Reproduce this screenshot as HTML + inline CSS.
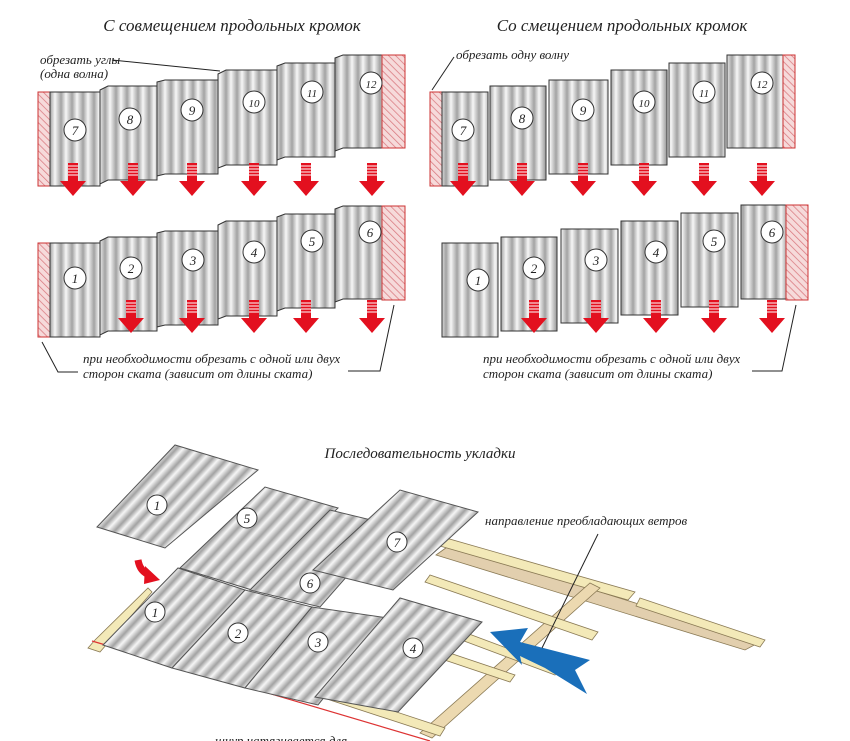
<!DOCTYPE html>
<html><head><meta charset="utf-8"><style>
html,body{margin:0;padding:0;background:#fff;}
svg{display:block}
text{font-family:"Liberation Serif",serif;font-style:italic;fill:#222}
</style></head><body>
<svg width="850" height="741" viewBox="0 0 850 741" xmlns="http://www.w3.org/2000/svg">
<defs>
<linearGradient id="g" x1="0" x2="1" y1="0" y2="0">
<stop offset="0" stop-color="#f6f6f6"/><stop offset="0.55" stop-color="#a2a2a2"/><stop offset="1" stop-color="#f6f6f6"/>
</linearGradient>
<pattern id="corr" width="11" height="10" patternUnits="userSpaceOnUse"><rect width="11" height="10" fill="url(#g)"/></pattern>
<pattern id="corr2" width="11" height="10" patternUnits="userSpaceOnUse" patternTransform="rotate(43)"><rect width="11" height="10" fill="url(#g)"/></pattern>
<pattern id="hatch" width="5" height="5" patternUnits="userSpaceOnUse" patternTransform="rotate(-45)"><rect width="5" height="5" fill="#f6dada"/><line x1="0" y1="0" x2="0" y2="5" stroke="#d9787f" stroke-width="1.5"/></pattern>
<g id="arr">
<rect x="-5" y="0" width="10" height="18" fill="#e3101f"/>
<line x1="-5" x2="5" y1="3" y2="3" stroke="#fff" stroke-width="1"/>
<line x1="-5" x2="5" y1="6" y2="6" stroke="#fff" stroke-width="1"/>
<line x1="-5" x2="5" y1="9" y2="9" stroke="#fff" stroke-width="1"/>
<line x1="-5" x2="5" y1="12" y2="12" stroke="#fff" stroke-width="1"/>
<polygon points="-13,18 13,18 0,33" fill="#e3101f"/>
</g>
</defs>

<text x="232" y="31" font-size="17" text-anchor="middle">С совмещением продольных кромок</text>
<text x="622" y="31" font-size="17" text-anchor="middle">Со смещением продольных кромок</text>

<g stroke="#333" stroke-width="1">
<rect x="38" y="92" width="12" height="94" fill="url(#hatch)" stroke="#c33"/>
<rect x="50" y="92" width="50" height="94" fill="url(#corr)"/>
<polygon points="100,90 108,86 157,86 157,180 108,180 100,184" fill="url(#corr)"/>
<polygon points="157,82 165,80 218,80 218,174 165,174 157,176" fill="url(#corr)"/>
<polygon points="218,74 226,70 277,70 277,165 226,165 218,168" fill="url(#corr)"/>
<polygon points="277,66 285,63 335,63 335,157 285,157 277,160" fill="url(#corr)"/>
<polygon points="335,58 343,55 382,55 382,148 343,148 335,151" fill="url(#corr)"/>
<rect x="382" y="55" width="23" height="93" fill="url(#hatch)" stroke="#c33"/>
<rect x="38" y="243" width="12" height="94" fill="url(#hatch)" stroke="#c33"/>
<rect x="50" y="243" width="50" height="94" fill="url(#corr)"/>
<polygon points="100,241 108,237 157,237 157,331 108,331 100,335" fill="url(#corr)"/>
<polygon points="157,233 165,231 218,231 218,325 165,325 157,327" fill="url(#corr)"/>
<polygon points="218,225 226,221 277,221 277,316 226,316 218,319" fill="url(#corr)"/>
<polygon points="277,217 285,214 335,214 335,308 285,308 277,311" fill="url(#corr)"/>
<polygon points="335,209 343,206 382,206 382,299 343,299 335,302" fill="url(#corr)"/>
<rect x="382" y="206" width="23" height="94" fill="url(#hatch)" stroke="#c33"/>

<rect x="430" y="92" width="12" height="94" fill="url(#hatch)" stroke="#c33"/>
<rect x="442" y="92" width="46" height="94" fill="url(#corr)"/>
<rect x="490" y="86" width="56" height="94" fill="url(#corr)"/>
<rect x="549" y="80" width="59" height="94" fill="url(#corr)"/>
<rect x="611" y="70" width="56" height="95" fill="url(#corr)"/>
<rect x="669" y="63" width="56" height="94" fill="url(#corr)"/>
<rect x="727" y="55" width="56" height="93" fill="url(#corr)"/>
<rect x="783" y="55" width="12" height="93" fill="url(#hatch)" stroke="#c33"/>
<rect x="442" y="243" width="56" height="94" fill="url(#corr)"/>
<rect x="501" y="237" width="56" height="94" fill="url(#corr)"/>
<rect x="561" y="229" width="57" height="94" fill="url(#corr)"/>
<rect x="621" y="221" width="57" height="94" fill="url(#corr)"/>
<rect x="681" y="213" width="57" height="94" fill="url(#corr)"/>
<rect x="741" y="205" width="45" height="94" fill="url(#corr)"/>
<rect x="786" y="205" width="22" height="95" fill="url(#hatch)" stroke="#c33"/>
</g>

<g fill="#fff" stroke="#333" stroke-width="1">
<circle cx="75" cy="130" r="11"/><circle cx="130" cy="119" r="11"/><circle cx="192" cy="110" r="11"/><circle cx="254" cy="102" r="11"/><circle cx="312" cy="92" r="11"/><circle cx="371" cy="83" r="11"/>
<circle cx="75" cy="278" r="11"/><circle cx="131" cy="268" r="11"/><circle cx="193" cy="260" r="11"/><circle cx="254" cy="252" r="11"/><circle cx="312" cy="241" r="11"/><circle cx="370" cy="232" r="11"/>
<circle cx="463" cy="130" r="11"/><circle cx="522" cy="118" r="11"/><circle cx="583" cy="110" r="11"/><circle cx="644" cy="102" r="11"/><circle cx="704" cy="92" r="11"/><circle cx="762" cy="83" r="11"/>
<circle cx="478" cy="280" r="11"/><circle cx="534" cy="268" r="11"/><circle cx="596" cy="260" r="11"/><circle cx="656" cy="252" r="11"/><circle cx="714" cy="241" r="11"/><circle cx="772" cy="232" r="11"/>
</g>
<g font-size="13" text-anchor="middle">
<text x="75" y="135">7</text><text x="130" y="124">8</text><text x="192" y="115">9</text><text x="254" y="107" font-size="11">10</text><text x="312" y="97" font-size="11">11</text><text x="371" y="88" font-size="11">12</text>
<text x="75" y="283">1</text><text x="131" y="273">2</text><text x="193" y="265">3</text><text x="254" y="257">4</text><text x="312" y="246">5</text><text x="370" y="237">6</text>
<text x="463" y="135">7</text><text x="522" y="123">8</text><text x="583" y="115">9</text><text x="644" y="107" font-size="11">10</text><text x="704" y="97" font-size="11">11</text><text x="762" y="88" font-size="11">12</text>
<text x="478" y="285">1</text><text x="534" y="273">2</text><text x="596" y="265">3</text><text x="656" y="257">4</text><text x="714" y="246">5</text><text x="772" y="237">6</text>
</g>

<use href="#arr" x="73" y="163"/><use href="#arr" x="133" y="163"/><use href="#arr" x="192" y="163"/><use href="#arr" x="254" y="163"/><use href="#arr" x="306" y="163"/><use href="#arr" x="372" y="163"/>
<use href="#arr" x="131" y="300"/><use href="#arr" x="192" y="300"/><use href="#arr" x="254" y="300"/><use href="#arr" x="306" y="300"/><use href="#arr" x="372" y="300"/>
<use href="#arr" x="463" y="163"/><use href="#arr" x="522" y="163"/><use href="#arr" x="583" y="163"/><use href="#arr" x="644" y="163"/><use href="#arr" x="704" y="163"/><use href="#arr" x="762" y="163"/>
<use href="#arr" x="534" y="300"/><use href="#arr" x="596" y="300"/><use href="#arr" x="656" y="300"/><use href="#arr" x="714" y="300"/><use href="#arr" x="772" y="300"/>

<text x="40" y="64" font-size="13">обрезать углы</text>
<text x="40" y="78" font-size="13">(одна волна)</text>
<line x1="112" y1="60" x2="220" y2="71" stroke="#222"/>
<text x="456" y="59" font-size="13">обрезать одну волну</text>
<line x1="454" y1="57" x2="432" y2="90" stroke="#222"/>

<text x="83" y="363" font-size="13">при необходимости обрезать с одной или двух</text>
<text x="83" y="378" font-size="13">сторон ската (зависит от длины ската)</text>
<polyline points="42,342 58,372 78,372" fill="none" stroke="#222"/>
<polyline points="394,305 380,371 348,371" fill="none" stroke="#222"/>
<text x="483" y="363" font-size="13">при необходимости обрезать с одной или двух</text>
<text x="483" y="378" font-size="13">сторон ската (зависит от длины ската)</text>
<polyline points="796,305 782,371 752,371" fill="none" stroke="#222"/>

<text x="420" y="458" font-size="15" text-anchor="middle">Последовательность укладки</text>

<g stroke="#8a7a55" stroke-width="0.8">
<polygon points="436,555 450,545 760,642 745,650" fill="#e2cfae"/>
<polygon points="440,546 446,538 635,592 628,600" fill="#f3e9b8"/>
<polygon points="640,598 765,640 760,647 636,606" fill="#f3e9b8"/>
<polygon points="420,733 432,738 600,588 590,583" fill="#ecd9b0"/>
<polygon points="425,582 430,575 598,632 592,640" fill="#f3e9b8"/>
<polygon points="440,632 445,625 560,668 555,675" fill="#f3e9b8"/>
<polygon points="400,645 405,638 515,675 510,682" fill="#f3e9b8"/>
<polygon points="330,700 336,692 445,728 440,736" fill="#f3e9b8"/>
<polygon points="88,648 95,640 148,588 152,592 100,652" fill="#f3e9b8"/>
</g>
<line x1="92" y1="641" x2="430" y2="741" stroke="#d33" stroke-width="1.2"/>

<g stroke="#555" stroke-width="1" fill="url(#corr2)">
<polygon points="180,568 265,487 338,508 252,590"/>
<polygon points="250,590 330,510 392,525 320,607"/>
<polygon points="313,570 400,490 478,512 393,590"/>
<polygon points="103,645 178,568 245,590 172,668"/>
<polygon points="172,668 245,590 312,607 245,688"/>
<polygon points="245,688 312,607 388,618 318,705"/>
<polygon points="315,697 400,598 482,622 398,712"/>
<polygon points="97,527 175,445 258,470 165,548"/>
</g>
<g fill="#fff" stroke="#333">
<circle cx="157" cy="505" r="10"/><circle cx="247" cy="518" r="10"/><circle cx="310" cy="583" r="10"/><circle cx="397" cy="542" r="10"/>
<circle cx="155" cy="612" r="10"/><circle cx="238" cy="633" r="10"/><circle cx="318" cy="642" r="10"/><circle cx="413" cy="648" r="10"/>
</g>
<g font-size="13" text-anchor="middle">
<text x="157" y="510">1</text><text x="247" y="523">5</text><text x="310" y="588">6</text><text x="397" y="547">7</text>
<text x="155" y="617">1</text><text x="238" y="638">2</text><text x="318" y="647">3</text><text x="413" y="653">4</text>
</g>

<path d="M138,560 Q140,572 150,575" fill="none" stroke="#e3101f" stroke-width="7"/>
<polygon points="145,566 160,580 144,584" fill="#e3101f"/>

<polygon points="490,632 528,628 520,642 590,660 575,670 587,694 545,668 520,656 522,665" fill="#1a6fba"/>

<text x="485" y="525" font-size="13">направление преобладающих ветров</text>
<line x1="598" y1="534" x2="542" y2="648" stroke="#222"/>
<text x="215" y="745" font-size="13">шнур натягивается для</text>
</svg>
</body></html>
